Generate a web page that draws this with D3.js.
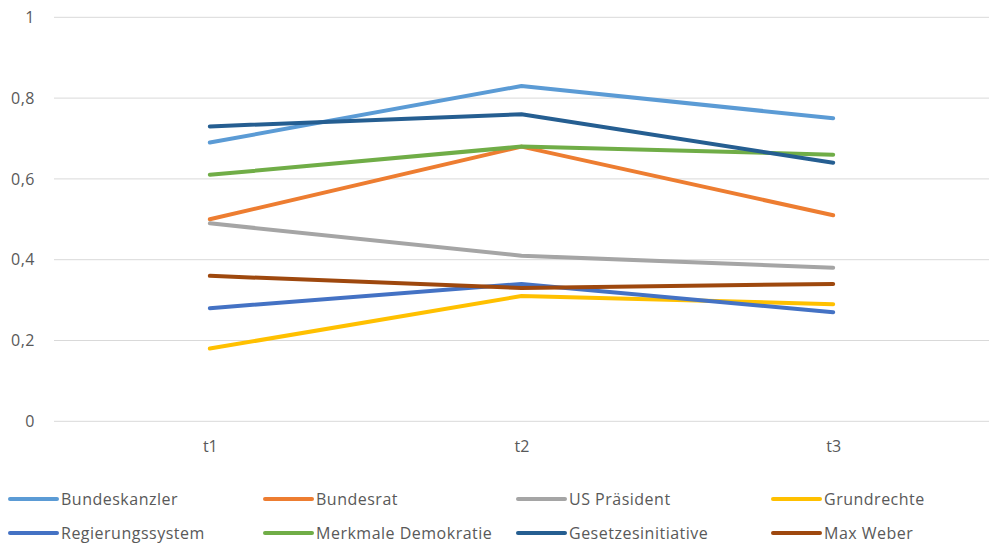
<!DOCTYPE html>
<html>
<head>
<meta charset="utf-8">
<script src="https://cdn.jsdelivr.net/npm/d3@7"></script>
<style>
  html, body { margin: 0; padding: 0; background: #fff; }
  svg { display: block; font-family: "Open Sans", "Noto Sans", sans-serif; }
</style>
</head>
<body>
<svg id="chart" width="989" height="544"></svg>
<script>
// Zeitpunkte und Antwortanteile je Begriff
const categories = ["t1", "t2", "t3"];
const seriesNames = ["Bundeskanzler", "Bundesrat", "US Präsident", "Grundrechte",
                     "Regierungssystem", "Merkmale Demokratie", "Gesetzesinitiative", "Max Weber"];
const bundeskanzler = [0.69, 0.83, 0.75];
const bundesrat = [0.50, 0.68, 0.51];
const usPraesident = [0.49, 0.41, 0.38];
const grundrechte = [0.18, 0.31, 0.29];
const regierungssystem = [0.28, 0.34, 0.27];
const merkmaleDemokratie = [0.61, 0.68, 0.66];
const gesetzesinitiative = [0.73, 0.76, 0.64];
const maxWeber = [0.36, 0.33, 0.34];
const yTicks = [0, 0.2, 0.4, 0.6, 0.8, 1];
const colors = ["#5B9BD5", "#ED7D31", "#A5A5A5", "#FFC000", "#4472C4", "#70AD47", "#255E91", "#9E480E"];

const seriesValues = [bundeskanzler, bundesrat, usPraesident, grundrechte,
                      regierungssystem, merkmaleDemokratie, gesetzesinitiative, maxWeber];
const series = seriesNames.map((name, i) => ({ name, values: seriesValues[i], color: colors[i] }));

const svg = d3.select("#chart");
const plotLeft = 54, plotRight = 989, plotTop = 17.3, plotBottom = 421.3;
const fontSize = "16px";

const x = d3.scalePoint().domain(categories).range([plotLeft, plotRight]).padding(0.5);
const y = d3.scaleLinear().domain([0, 1]).range([plotBottom, plotTop]);

const fmt = d => d === 0 || d === 1 ? String(d) : d3.format(".1f")(d).replace(".", ",");

// Gitterlinien
svg.append("g")
  .selectAll("line")
  .data(yTicks)
  .join("line")
  .attr("x1", plotLeft).attr("x2", plotRight)
  .attr("y1", d => y(d)).attr("y2", d => y(d))
  .attr("stroke", "#d9d9d9").attr("stroke-width", 1);

// Y-Achse
const yAxis = svg.append("g")
  .attr("transform", `translate(${plotLeft - 19},0)`)
  .call(d3.axisLeft(y).tickValues(yTicks).tickFormat(fmt).tickSize(0).tickPadding(0));
yAxis.select(".domain").remove();
yAxis.selectAll("text").attr("fill", "#595959").style("font-size", fontSize)
  .style("letter-spacing", "0.5px")
  .style("font-family", "'Open Sans', sans-serif");

// X-Achse
const xAxis = svg.append("g")
  .attr("transform", `translate(0,${plotBottom + 19})`)
  .call(d3.axisBottom(x).tickSize(0).tickPadding(0));
xAxis.select(".domain").remove();
xAxis.selectAll("text").attr("fill", "#595959").style("font-size", fontSize)
  .style("font-family", "'Open Sans', sans-serif");

// Linien
const line = d3.line()
  .x((d, i) => x(categories[i]))
  .y(d => y(d));

svg.append("g")
  .selectAll("path")
  .data(series)
  .join("path")
  .attr("d", d => line(d.values))
  .attr("fill", "none")
  .attr("stroke", d => d.color)
  .attr("stroke-width", 4)
  .attr("stroke-linecap", "round")
  .attr("stroke-linejoin", "round");

// Legende
const colX = [10, 265, 518, 773];
const rowY = [499, 533];
const legend = svg.append("g")
  .selectAll("g")
  .data(series)
  .join("g")
  .attr("transform", (d, i) => `translate(${colX[i % 4]},${rowY[Math.floor(i / 4)]})`);
legend.append("line")
  .attr("x1", 0).attr("x2", 47).attr("y1", 0).attr("y2", 0)
  .attr("stroke", d => d.color).attr("stroke-width", 4).attr("stroke-linecap", "round");
legend.append("text")
  .attr("x", 51).attr("y", 0).attr("dy", "0.35em")
  .attr("fill", "#595959").style("font-size", fontSize)
  .style("letter-spacing", "0.5px")
  .text(d => d.name);
</script>
</body>
</html>
